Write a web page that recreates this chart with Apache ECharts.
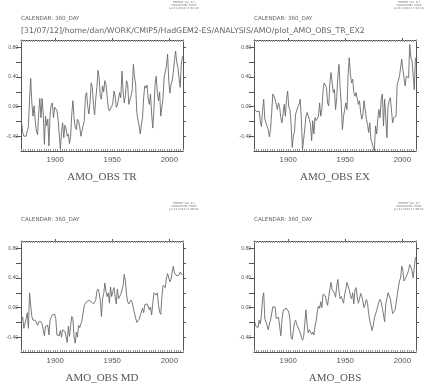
<!DOCTYPE html>
<html><head><meta charset="utf-8">
<script src="https://cdn.jsdelivr.net/npm/echarts@6/dist/echarts.min.js"></script>
<style>html,body{margin:0;padding:0;background:#fff}#c{width:433px;height:384px}</style>
</head><body><div id="c"></div>
<script>
// ---- data ----
const startYear = 1870; // annual means 1870..2011
const xTickLabels = [1900, 1950, 2000];
const yTickLabels = [-0.4, 0, 0.4, 0.8];
const yTicks = [-0.4, -0.2, 0, 0.2, 0.4, 0.6, 0.8];
const panelTitles = ['AMO_OBS TR', 'AMO_OBS EX', 'AMO_OBS MD', 'AMO_OBS'];
const headerPath = '[31/07/12]/home/dan/WORK/CMIP5/HadGEM2-ES/ANALYSIS/AMO/plot_AMO_OBS_TR_EX2';
const calendarText = 'CALENDAR: 360_DAY';
const stampTop = ['FERRET Ver. 6.7', 'NOAA/PMEL TMAP', 'Jul 31 2012 17:44:43'];
const stampBottom = ['FERRET Ver. 6.7', 'NOAA/PMEL TMAP', 'Jul 31 2012 17:48:04'];

const amoTR = [
 -0.22,-0.35,-0.40,-0.38,-0.40,-0.33,-0.27,0.10,0.38,0.05,
 -0.13,0.01,-0.20,-0.33,-0.38,-0.10,0.11,-0.15,0.11,-0.10,
 -0.51,-0.13,-0.26,-0.17,-0.53,-0.10,0.02,0.05,-0.15,-0.01,
 -0.02,-0.05,-0.17,-0.37,-0.57,-0.35,-0.22,-0.42,-0.25,-0.30,
 -0.40,-0.37,-0.50,-0.40,-0.10,0.08,-0.15,-0.28,-0.31,-0.17,
 -0.20,-0.28,-0.40,-0.42,-0.25,-0.19,0.15,0.19,0.00,-0.10,
 0.05,0.32,0.26,0.03,-0.11,0.10,0.26,0.49,0.40,0.14,
 0.10,0.28,0.20,0.35,0.30,0.14,-0.01,-0.06,-0.04,0.00,
 0.05,0.21,0.14,-0.01,0.02,0.03,0.19,0.12,0.48,0.21,
 0.05,0.15,0.35,0.30,0.03,0.05,0.15,0.23,0.57,0.40,
 0.30,-0.08,-0.18,-0.25,-0.37,-0.25,-0.15,0.12,0.28,0.25,
 0.29,0.10,0.03,0.17,-0.10,-0.29,-0.04,0.30,0.41,0.19,
 0.08,0.20,-0.13,-0.13,0.12,0.40,0.39,0.55,0.71,0.35,
 0.18,0.30,0.35,0.46,0.62,0.75,0.60,0.53,0.39,0.26,
 0.57,0.68];
const amoEX = [
 -0.04,-0.06,-0.07,-0.08,-0.06,-0.19,-0.27,-0.05,0.10,-0.17,
 -0.22,-0.27,-0.31,-0.41,-0.31,-0.08,0.17,0.14,0.10,0.12,
 -0.04,0.05,-0.01,-0.15,-0.22,-0.23,0.03,-0.13,0.10,0.21,
 -0.01,-0.04,-0.24,-0.55,-0.40,-0.33,-0.10,-0.10,0.00,0.03,
 0.10,-0.17,-0.58,-0.44,-0.30,-0.13,-0.08,-0.06,-0.17,-0.24,
 -0.46,-0.19,-0.37,-0.15,-0.19,-0.19,-0.13,0.05,-0.13,-0.04,
 0.21,0.32,0.32,0.26,0.05,0.01,0.32,0.46,0.46,0.19,
 0.23,-0.04,0.12,0.41,0.57,0.26,0.03,-0.31,-0.13,-0.04,
 0.05,-0.04,0.44,0.66,0.44,0.32,0.37,0.19,0.14,0.19,
 0.19,0.03,0.08,-0.08,-0.17,-0.10,0.08,0.08,-0.17,-0.24,
 -0.35,-0.22,-0.44,-0.46,-0.55,-0.60,-0.26,-0.37,-0.17,-0.04,
 -0.15,0.10,0.17,-0.26,0.10,-0.15,-0.42,0.01,0.08,0.12,
 0.12,-0.22,-0.15,-0.13,-0.13,0.30,0.35,0.41,0.41,0.64,
 0.50,0.48,0.28,0.41,0.39,0.39,0.84,0.66,0.62,0.64,
 0.23,0.66];
const amoMD = [
 -0.17,-0.13,-0.28,-0.29,-0.15,-0.07,-0.28,0.20,0.03,-0.12,
 -0.17,-0.18,-0.17,-0.19,-0.24,-0.19,-0.21,-0.19,-0.22,-0.30,
 -0.38,-0.25,-0.26,-0.24,-0.37,-0.17,-0.13,-0.10,-0.08,-0.09,
 -0.15,-0.37,-0.38,-0.38,-0.31,-0.40,-0.30,-0.30,-0.32,-0.30,
 -0.47,-0.25,-0.39,-0.24,-0.12,-0.15,-0.40,-0.48,-0.33,-0.40,
 -0.24,-0.27,-0.22,-0.17,-0.06,0.03,0.04,0.08,0.08,0.10,
 0.12,0.08,0.10,0.05,0.04,0.10,0.22,0.25,0.20,0.10,
 -0.12,0.12,0.19,0.33,0.22,0.15,0.20,0.06,0.28,0.15,
 0.22,0.27,0.15,0.05,0.25,0.12,0.10,0.18,0.16,0.30,
 0.45,0.36,0.18,0.08,0.05,0.07,0.10,0.07,-0.01,0.01,
 -0.14,-0.20,-0.20,-0.16,-0.11,-0.13,-0.01,-0.07,0.04,0.05,
 0.05,0.07,-0.03,0.01,-0.10,0.05,0.20,0.18,0.17,0.20,
 0.04,-0.06,-0.09,0.15,0.30,0.32,0.27,0.40,0.46,0.45,
 0.35,0.38,0.48,0.56,0.47,0.48,0.43,0.41,0.44,0.48,
 0.50,0.44];
const amoOBS = [
 -0.18,-0.25,-0.26,-0.27,-0.17,-0.22,-0.10,0.12,0.20,-0.15,
 -0.15,-0.24,-0.30,-0.22,-0.17,-0.15,0.01,-0.01,0.01,-0.15,
 -0.17,-0.13,-0.12,-0.38,-0.17,-0.05,-0.02,0.00,-0.01,-0.02,
 -0.06,-0.16,-0.40,-0.43,-0.32,-0.20,-0.17,-0.23,-0.24,-0.30,
 -0.34,-0.40,-0.44,-0.40,-0.22,-0.03,-0.22,-0.34,-0.30,-0.30,
 -0.36,-0.33,-0.37,-0.25,-0.18,-0.05,0.02,-0.01,0.08,0.00,
 0.18,0.20,0.16,0.08,0.03,0.15,0.25,0.34,0.24,0.22,
 0.20,0.14,0.29,0.38,0.22,0.12,0.15,0.15,0.06,0.18,
 0.25,0.34,0.32,0.24,0.16,0.12,0.20,0.05,0.24,0.27,
 0.15,0.06,0.12,0.19,0.15,0.08,0.00,0.05,0.11,0.06,
 -0.08,-0.18,-0.24,-0.31,-0.25,-0.14,-0.13,-0.04,0.02,0.08,
 0.11,0.07,-0.01,-0.10,-0.19,0.05,0.12,0.20,0.20,0.12,
 0.02,-0.08,-0.06,-0.04,0.05,0.16,0.27,0.36,0.40,0.56,
 0.50,0.36,0.37,0.42,0.40,0.50,0.58,0.55,0.50,0.40,
 0.40,0.68];
const seriesList = [amoTR, amoEX, amoMD, amoOBS];

// ---- layout ----
const grids = [
  {left: 21, top: 40, width: 162, height: 111},
  {left: 254, top: 40, width: 162, height: 111},
  {left: 21, top: 241, width: 162, height: 111},
  {left: 254, top: 241, width: 162, height: 111}
];
const AX = '#555', LN = '#6a6a6a', TX = '#555';
const sans = 'Liberation Sans';

const xAxes = [], yAxes = [], series = [], graphic = [];
grids.forEach((g, i) => {
  const base = {gridIndex: i, type: 'value', min: 1870, max: 2012, interval: 2, splitLine: {show: false}};
  xAxes.push(Object.assign({}, base, {
    position: 'bottom',
    axisLine: {show: true, onZero: false, lineStyle: {color: AX, width: 1}},
    axisTick: {show: true, inside: true, length: 2, lineStyle: {color: '#999', width: 1}},
    axisLabel: {customValues: xTickLabels, formatter: v => String(v), fontSize: 7.8, color: TX, margin: 5, fontFamily: sans}
  }));
  xAxes.push(Object.assign({}, base, {
    position: 'top',
    axisLine: {show: true, onZero: false, lineStyle: {color: AX, width: 1}},
    axisTick: {show: true, inside: true, length: 2, lineStyle: {color: '#999', width: 1}},
    axisLabel: {show: false}
  }));
  xAxes.push(Object.assign({}, base, {
    position: 'top',
    axisLine: {show: false, onZero: false},
    axisTick: {show: true, inside: false, length: 2, customValues: xTickLabels, lineStyle: {color: AX, width: 1}},
    axisLabel: {show: false}
  }));
  const ybase = {gridIndex: i, type: 'value', min: -0.6, max: 0.9, interval: 0.2, splitLine: {show: false}};
  yAxes.push(Object.assign({}, ybase, {
    position: 'left',
    axisLine: {show: true, onZero: false, lineStyle: {color: AX, width: 1}},
    axisTick: {show: true, inside: false, length: 5, customValues: yTicks, lineStyle: {color: AX, width: 1}},
    axisLabel: {customValues: yTickLabels, formatter: v => v.toFixed(2), fontSize: 5, color: TX, margin: 3, fontFamily: sans}
  }));
  yAxes.push(Object.assign({}, ybase, {
    position: 'right',
    axisLine: {show: true, onZero: false, lineStyle: {color: AX, width: 1}},
    axisTick: {show: true, inside: false, length: 3, customValues: yTicks, lineStyle: {color: AX, width: 1}},
    axisLabel: {show: false}
  }));
  series.push({
    type: 'line', xAxisIndex: i * 3, yAxisIndex: i * 2,
    data: seriesList[i].map((v, k) => [startYear + k + 0.5, v]),
    showSymbol: false, symbol: 'none',
    lineStyle: {color: LN, width: 0.9},
    animation: false
  });
  graphic.push({type: 'text', x: g.left + g.width / 2, y: g.top + g.height + 26,
    style: {text: panelTitles[i], font: '11px "Liberation Serif"', fill: TX, align: 'center', verticalAlign: 'middle'}});
  graphic.push({type: 'text', x: g.left, y: g.top - 21,
    style: {text: calendarText, font: '5.6px "DejaVu Sans"', fill: '#666', align: 'left', verticalAlign: 'middle'}});
  const st = i < 2 ? stampTop : stampBottom;
  const cx = i % 2 === 0 ? 184 : 409;
  st.forEach((s, j) => {
    graphic.push({type: 'text', x: cx, y: g.top - 38 + j * 2.9,
      style: {text: s, font: '2.8px "DejaVu Sans"', fill: '#777', align: 'center', verticalAlign: 'middle'}});
  });
});
graphic.push({type: 'text', x: 21, y: 31,
  style: {text: headerPath, font: '7.8px "DejaVu Sans"', fill: '#666', align: 'left', verticalAlign: 'middle'}});

const chart = echarts.init(document.getElementById('c'), null, {renderer: 'canvas'});
chart.setOption({
  animation: false,
  backgroundColor: '#fff',
  grid: grids.map(g => Object.assign({containLabel: false}, g)),
  xAxis: xAxes,
  yAxis: yAxes,
  series: series,
  graphic: graphic
});
</script>
</body></html>
